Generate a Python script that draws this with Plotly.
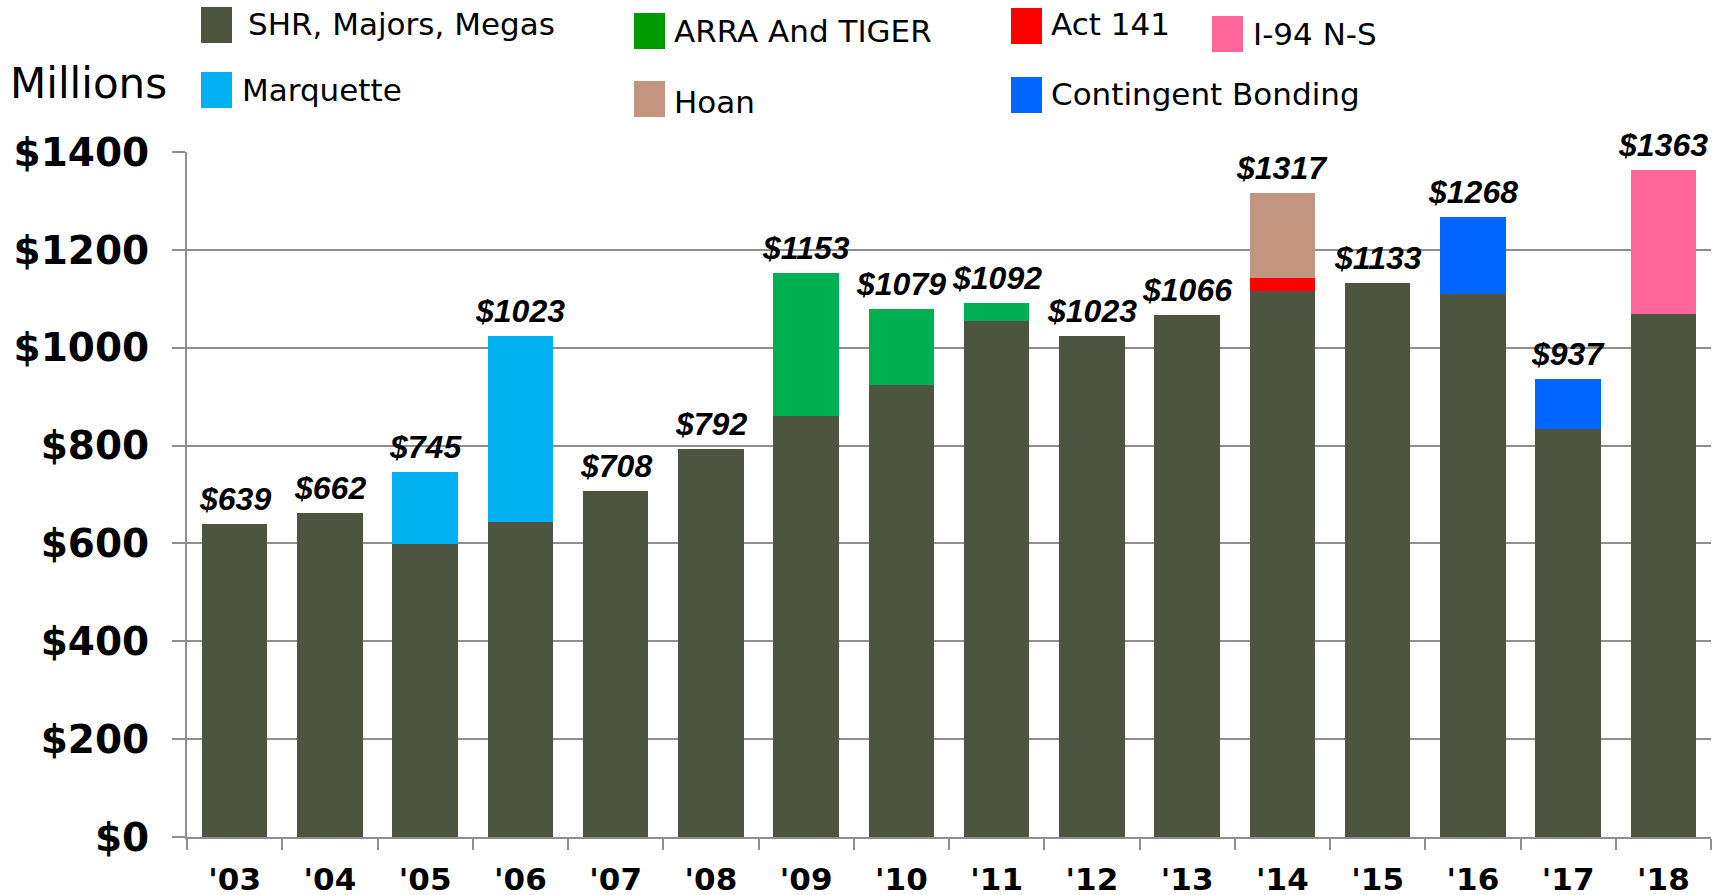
import plotly.graph_objects as go

years = ["'03", "'04", "'05", "'06", "'07", "'08", "'09", "'10",
         "'11", "'12", "'13", "'14", "'15", "'16", "'17", "'18"]
shr_majors_megas = [639, 662, 598, 643, 708, 792, 861, 924, 1054, 1023, 1066, 1116, 1133, 1109, 834, 1069]
marquette =        [0, 0, 147, 380, 0, 0, 0, 0, 0, 0, 0, 0, 0, 0, 0, 0]
arra_tiger =       [0, 0, 0, 0, 0, 0, 292, 155, 38, 0, 0, 0, 0, 0, 0, 0]
act_141 =          [0, 0, 0, 0, 0, 0, 0, 0, 0, 0, 0, 27, 0, 0, 0, 0]
hoan =             [0, 0, 0, 0, 0, 0, 0, 0, 0, 0, 0, 174, 0, 0, 0, 0]
contingent =       [0, 0, 0, 0, 0, 0, 0, 0, 0, 0, 0, 0, 0, 159, 103, 0]
i94_ns =           [0, 0, 0, 0, 0, 0, 0, 0, 0, 0, 0, 0, 0, 0, 0, 294]
y_ticks = [0, 200, 400, 600, 800, 1000, 1200, 1400]

series = [
    ("SHR, Majors, Megas", shr_majors_megas, "#4D5540"),
    ("Marquette", marquette, "#00B0F0"),
    ("ARRA And TIGER", arra_tiger, "#00B050"),
    ("Act 141", act_141, "#FF0000"),
    ("Hoan", hoan, "#C3957E"),
    ("Contingent Bonding", contingent, "#0066FF"),
    ("I-94 N-S", i94_ns, "#FF6699"),
]
totals = [sum(s[1][i] for s in series) for i in range(len(years))]

fig = go.Figure()
for name, vals, color in series:
    fig.add_trace(go.Bar(x=years, y=vals, name=name, marker=dict(color=color, line=dict(width=0)),
                         showlegend=False))

for yr, tot in zip(years, totals):
    fig.add_annotation(x=yr, y=tot, text=f"${tot}", showarrow=False, yanchor="bottom",
                       yshift=5, xref="x", yref="y",
                       font=dict(family="Liberation Sans, Arial", size=32, color="black",
                                 weight="bold", style="italic"))

# page body margin is removed (post_script), so the figure starts at the window corner
OFF = 0
FIG_W, FIG_H = 1723, 905
L, T = 187 - OFF, 152 - OFF          # plot area starts at window px (187, 152)
W, H = 1524, 685
R = FIG_W - L - W
B = FIG_H - T - H

def px(x):   # window pixel -> paper x
    return (x - OFF - L) / W
def py(y):   # window pixel -> paper y
    return (T + H - (y - OFF)) / H

legend_items = [
    ("SHR, Majors, Megas", "#4D5540", 201, 7, 246, 24),
    ("Marquette", "#00B0F0", 201, 72, 240, 90),
    ("ARRA And TIGER", "#009900", 634, 13, 672, 31),
    ("Hoan", "#C3957E", 634, 81, 672, 102),
    ("Act 141", "#FF0000", 1011, 8, 1049, 24),
    ("Contingent Bonding", "#0066FF", 1011, 77, 1049, 94),
    ("I-94 N-S", "#FF6699", 1212, 16, 1251, 34),
]
for text, color, sx, sy, tx, ty in legend_items:
    fig.add_shape(type="rect", xref="paper", yref="paper",
                  x0=px(sx), x1=px(sx + 31), y0=py(sy), y1=py(sy + 36),
                  fillcolor=color, line=dict(width=0))
    fig.add_annotation(xref="paper", yref="paper", x=px(tx), y=py(ty), text=text,
                       showarrow=False, xanchor="left", yanchor="middle",
                       font=dict(family="DejaVu Sans", size=31, color="black"))

fig.add_annotation(xref="paper", yref="paper", x=px(8), y=py(83), text="Millions",
                   showarrow=False, xanchor="left", yanchor="middle",
                   font=dict(family="DejaVu Sans", size=42, color="black"))

grid = "#8E8E8E"
fig.update_layout(
    barmode="stack",
    bargap=0.31,
    width=FIG_W, height=FIG_H,
    margin=dict(l=L, r=R, t=T, b=B, pad=0, autoexpand=False),
    plot_bgcolor="white", paper_bgcolor="white",
    xaxis=dict(type="category", showline=True, linecolor=grid, linewidth=2,
               ticks="outside", tickson="boundaries", ticklen=11, tickcolor=grid, tickwidth=2,
               tickfont=dict(family="DejaVu Sans", size=31, color="black", weight="bold"),
               ticklabelstandoff=14, showgrid=False, automargin=False),
    yaxis=dict(range=[0, 1400], tickvals=y_ticks, ticktext=[f"${v}" for v in y_ticks],
               showline=True, linecolor=grid, linewidth=2, showgrid=True, gridcolor=grid,
               gridwidth=2, ticks="outside", ticklen=13, tickcolor=grid, tickwidth=2,
               tickfont=dict(family="DejaVu Sans", size=39, color="black", weight="bold"),
               ticklabelstandoff=15, zeroline=False, automargin=False),
)

fig.write_html("out.html", config={"displayModeBar": False},
               post_script="document.body.style.margin='0';document.body.style.overflow='hidden';")
